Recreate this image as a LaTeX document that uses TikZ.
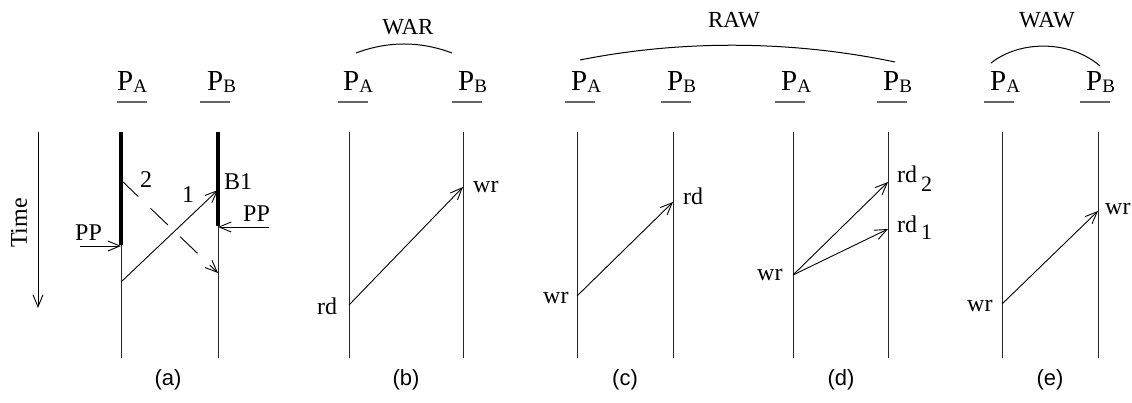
\documentclass[tikz,border=0pt]{standalone}
\usepackage{fontspec}
\setmainfont{Liberation Serif}
\newfontfamily\capfont{Liberation Sans}
\usetikzlibrary{arrows.meta}
\newcommand{\PSub}[1]{P\raisebox{-1.5pt}{\fontsize{19}{19}\selectfont #1}}
\begin{document}
\begin{tikzpicture}[x=1pt,y=-1pt,
  proc/.style={line width=1pt,black!85},
  thickseg/.style={line width=4pt},
  msg/.style={line width=0.9pt,-{Straight Barb[length=12pt,width=10pt,line width=0.9pt]}},
  ulin/.style={line width=1.6pt,black!60},
  lbl/.style={font=\fontsize{24}{28}\selectfont,inner sep=0pt,anchor=base west},
  plbl/.style={font=\fontsize{29}{32}\selectfont,inner sep=0pt,anchor=base west},
  ttl/.style={font=\fontsize{23}{27}\selectfont,inner sep=0pt,anchor=base},
  capt/.style={font=\capfont\fontsize{22}{26}\selectfont,inner sep=0pt},
  arcl/.style={line width=1pt}]
\useasboundingbox (0,0) rectangle (1132,403);

% ---------- process header labels ----------
\foreach \nm/\ux/\px/\s in {aA/117/117/A,aB/200/207/B,bA/338/343/A,bB/452/458/B,
                             cA/565/571/A,cB/661/667/B,dA/775/781/A,dB/877/883/B,
                             eA/984/990/A,eB/1080/1086/B}{
  \node[plbl] (p\nm) at (\px,91) {\PSub{\s}};
  \coordinate (u\nm l) at (\ux,102);
  \coordinate (u\nm r) at (\ux+30,102);
  \draw[ulin] (u\nm l) -- (u\nm r);
}

% ---------- vertical process lines ----------
\foreach \nm/\x in {aA/121,aB/218,bA/349,bB/463,cA/577,cB/673,dA/793,dB/888,eA/1002,eB/1098}{
  \coordinate (\nm t) at (\x,132);
  \coordinate (\nm b) at (\x,358);
  \draw[proc] (\nm t) -- (\nm b);
}

% ---------- panel (a) ----------
\coordinate (aAk) at (121,245);
\coordinate (aBk) at (218,226);
\draw[thickseg] (aAt) -- (aAk);
\draw[thickseg] (aBt) -- (aBk);
\coordinate (a1s) at (121,282);
\coordinate (a1e) at (218,190);
\draw[msg] (a1s) -- (a1e);
\coordinate (a2s) at (121,180);
\coordinate (a2e) at (218,273);
\draw[msg,dash pattern=on 24pt off 17pt] (a2s) -- (a2e);
\node[lbl] (l2) at (140,188) {2};
\node[lbl] (l1) at (182,203) {1};
\node[lbl] (lB1) at (224,190) {B1};
\coordinate (ppl) at (80,246);
\coordinate (ppla) at (121,246);
\draw[msg] (ppl) -- (ppla);
\node[lbl] (lppl) at (75,241) {PP};
\coordinate (ppr) at (269,227);
\coordinate (ppra) at (218,227);
\draw[msg] (ppr) -- (ppra);
\node[lbl] (lppr) at (243,222) {PP};
\coordinate (timet) at (38,132);
\coordinate (timeb) at (38,308);
\draw[msg] (timet) -- (timeb);
\node[font=\fontsize{24}{28}\selectfont,inner sep=0pt,rotate=90] (ltime) at (19,223) {Time};
\node[capt] (ca) at (168,380) {(a)};

% ---------- panel (b) ----------
\coordinate (bs) at (349,305);
\coordinate (be) at (463,187);
\draw[msg] (bs) -- (be);
\node[lbl] (brd) at (317,314) {rd};
\node[lbl] (bwr) at (473,193) {wr};
\coordinate (warl) at (356,53);
\coordinate (warr) at (452,53);
\draw[arcl] (warl) .. controls (388,41) and (420,41) .. (warr);
\node[ttl] (war) at (408,35) {WAR};
\node[capt] (cb) at (406,380) {(b)};

% ---------- panel (c) ----------
\coordinate (cs) at (577,296);
\coordinate (ce) at (673,202);
\draw[msg] (cs) -- (ce);
\node[lbl] (crd) at (683,205) {rd};
\node[lbl] (cwr) at (543,304) {wr};
\coordinate (rawl) at (580,60);
\coordinate (rawr) at (895,62);
\draw[arcl] (rawl) .. controls (680,40) and (790,40) .. (rawr);
\node[ttl] (raw) at (734,28) {RAW};
\node[capt] (cc) at (625,380) {(c)};

% ---------- panel (d) ----------
\coordinate (ds) at (793,275);
\coordinate (de2) at (888,182);
\coordinate (de1) at (888,229);
\draw[msg] (ds) -- (de2);
\draw[msg] (ds) -- (de1);
\node[lbl] (dwr) at (757,280) {wr};
\node[lbl] (drd2) at (897,183) {rd\hspace{4pt}\raisebox{-9pt}{\fontsize{22}{22}\selectfont 2}};
\node[lbl] (drd1) at (897,233) {rd\hspace{4pt}\raisebox{-7pt}{\fontsize{22}{22}\selectfont 1}};
\node[capt] (cd) at (841,380) {(d)};

% ---------- panel (e) ----------
\coordinate (es) at (1002,304);
\coordinate (ee) at (1098,211);
\draw[msg] (es) -- (ee);
\node[lbl] (ewl) at (967,312) {wr};
\node[lbl] (ewr) at (1105,215) {wr};
\coordinate (wawl) at (991,63);
\coordinate (wawr) at (1100,66);
\draw[arcl] (wawl) .. controls (1020,40) and (1070,40) .. (wawr);
\node[ttl] (waw) at (1047,28) {WAW};
\node[capt] (ce) at (1050,380) {(e)};
\end{tikzpicture}
\end{document}
